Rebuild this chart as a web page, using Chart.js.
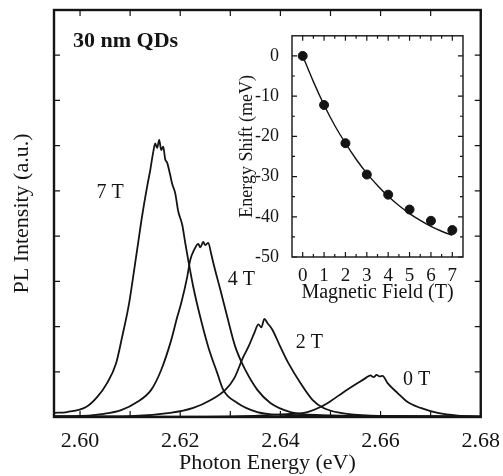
<!DOCTYPE html>
<html>
<head>
<meta charset="utf-8">
<script src="https://cdn.jsdelivr.net/npm/chart.js@4/dist/chart.umd.min.js"></script>
<style>
  body { margin: 0; background: #fff; }
  #wrap { position: relative; width: 503px; height: 476px; }
  #main { position: absolute; left: 0; top: 0; }
  #inset { position: absolute; left: 236px; top: 20px; }
</style>
</head>
<body>
<div id="wrap">
  <canvas id="main" width="503" height="476"></canvas>
  <canvas id="inset" width="240" height="290"></canvas>
</div>
<script>
// spectre PL (eV, intensitate u.a.)
var e7 = [2.5948, 2.5974, 2.6012, 2.6034, 2.6054, 2.6072, 2.6084, 2.6098, 2.6108, 2.6116, 2.6124, 2.6134, 2.6140, 2.6146, 2.6150, 2.6154, 2.6158, 2.6162, 2.6166, 2.6170, 2.6174, 2.6180, 2.6184, 2.6190, 2.6196, 2.6204, 2.6210, 2.6216, 2.6226, 2.6240, 2.6256, 2.6274, 2.6286, 2.6314, 2.6354, 2.6400, 2.6500, 2.6600, 2.6800];
var i7 = [0.09, 0.11, 0.22, 0.44, 0.75, 1.19, 1.77, 2.52, 3.25, 3.85, 4.45, 5.10, 5.45, 5.85, 6.05, 5.95, 6.13, 5.90, 5.98, 5.70, 5.62, 5.35, 5.15, 4.95, 4.55, 4.25, 3.85, 3.47, 2.88, 2.21, 1.55, 0.97, 0.60, 0.31, 0.11, 0.05, 0.03, 0.02, 0.01];

var e4 = [2.5948, 2.5988, 2.6048, 2.6082, 2.6114, 2.6142, 2.6162, 2.6182, 2.6194, 2.6202, 2.6214, 2.6220, 2.6228, 2.6236, 2.6240, 2.6246, 2.6250, 2.6256, 2.6262, 2.6266, 2.6272, 2.6280, 2.6294, 2.6310, 2.6330, 2.6354, 2.6380, 2.6420, 2.6480, 2.6600, 2.6800];
var i4 = [0.02, 0.02, 0.07, 0.15, 0.33, 0.60, 1.04, 1.70, 2.21, 2.52, 3.10, 3.47, 3.70, 3.83, 3.75, 3.87, 3.80, 3.85, 3.60, 3.41, 3.15, 2.82, 2.21, 1.55, 1.04, 0.60, 0.31, 0.11, 0.04, 0.02, 0.01];

var e2 = [2.5948, 2.6100, 2.6180, 2.6226, 2.6260, 2.6290, 2.6308, 2.6326, 2.6336, 2.6348, 2.6356, 2.6362, 2.6368, 2.6374, 2.6384, 2.6400, 2.6416, 2.6440, 2.6464, 2.6486, 2.6520, 2.6580, 2.6800];
var i2 = [0.01, 0.02, 0.09, 0.20, 0.37, 0.60, 0.86, 1.33, 1.55, 1.86, 2.05, 1.98, 2.17, 2.08, 1.93, 1.55, 1.19, 0.75, 0.38, 0.20, 0.09, 0.03, 0.01];

var e0 = [2.5948, 2.6200, 2.6320, 2.6420, 2.6454, 2.6480, 2.6500, 2.6526, 2.6554, 2.6570, 2.6580, 2.6586, 2.6592, 2.6598, 2.6604, 2.6614, 2.6634, 2.6654, 2.6680, 2.6714, 2.6754, 2.6800];
var i0 = [0.01, 0.01, 0.02, 0.07, 0.11, 0.22, 0.35, 0.55, 0.75, 0.86, 0.92, 0.88, 0.93, 0.90, 0.91, 0.75, 0.53, 0.33, 0.20, 0.09, 0.03, 0.01];

// tick-uri axa principala
var xTicks = [2.60, 2.61, 2.62, 2.63, 2.64, 2.65, 2.66, 2.67, 2.68];
var yTicks = [0, 1, 2, 3, 4, 5, 6, 7, 8, 9];

// etichete pe curbe
var fieldLabels = ["7 T", "4 T", "2 T", "0 T"];

// inset: deplasarea energiei vs camp magnetic
var fieldB = [0, 1, 2, 3, 4, 5, 6, 7];
var shift = [0, -12.2, -21.7, -29.5, -34.5, -38.2, -41.0, -43.3];
var fitB = [0, 0.5, 1, 1.5, 2, 2.5, 3, 3.5, 4, 4.5, 5, 5.5, 6, 6.5, 7];
var fitShift = [0, -6.4, -12.2, -17.3, -21.7, -25.7, -29.2, -32.2, -34.9, -37.2, -39.2, -40.9, -42.4, -43.6, -44.6];
var insetYTicks = [-50, -40, -30, -20, -10, 0];
var insetXTicks = [0, 1, 2, 3, 4, 5, 6, 7];


var serif = "'Liberation Serif', 'DejaVu Serif', serif";
var ink = "#141414";

function pts(xs, ys) {
  var out = [];
  for (var i = 0; i < xs.length; i++) out.push({ x: xs[i], y: ys[i] });
  return out;
}

function curve(xs, ys) {
  return {
    data: pts(xs, ys),
    borderColor: ink,
    borderWidth: 1.8,
    pointRadius: 0,
    fill: false,
    cubicInterpolationMode: "monotone"
  };
}

// rama + tick-uri spre interior
function frameTicks(chart, xs, ys, xMinor, yMinor, len, minorLen, lw) {
  var ctx = chart.ctx;
  var a = chart.chartArea;
  var sx = chart.scales.x, sy = chart.scales.y;
  ctx.save();
  ctx.strokeStyle = ink;
  ctx.lineWidth = lw;
  ctx.strokeRect(a.left, a.top, a.right - a.left, a.bottom - a.top);
  ctx.lineWidth = 1.2;
  ctx.beginPath();
  function xt(v, l) {
    var p = sx.getPixelForValue(v);
    ctx.moveTo(p, a.bottom); ctx.lineTo(p, a.bottom - l);
    ctx.moveTo(p, a.top); ctx.lineTo(p, a.top + l);
  }
  function yt(v, l) {
    var p = sy.getPixelForValue(v);
    ctx.moveTo(a.left, p); ctx.lineTo(a.left + l, p);
    ctx.moveTo(a.right, p); ctx.lineTo(a.right - l, p);
  }
  xs.forEach(function (v) { xt(v, len); });
  ys.forEach(function (v) { yt(v, len); });
  (xMinor || []).forEach(function (v) { xt(v, minorLen); });
  (yMinor || []).forEach(function (v) { yt(v, minorLen); });
  ctx.stroke();
  ctx.restore();
}

var mainPlugin = {
  id: "mainFrame",
  afterDraw: function (chart) {
    frameTicks(chart, xTicks, yTicks, null, null, 6, 0, 2.4);
    var ctx = chart.ctx;
    var sx = chart.scales.x, sy = chart.scales.y;
    ctx.save();
    ctx.fillStyle = ink;
    ctx.textBaseline = "middle";
    ctx.textAlign = "left";
    ctx.font = "bold 22px " + serif;
    ctx.fillText("30 nm QDs", sx.getPixelForValue(2.5986), sy.getPixelForValue(8.3));
    ctx.font = "20px " + serif;
    ctx.textAlign = "center";
    ctx.fillText(fieldLabels[0], sx.getPixelForValue(2.6060), sy.getPixelForValue(4.95));
    ctx.fillText(fieldLabels[1], sx.getPixelForValue(2.6322), sy.getPixelForValue(3.03));
    ctx.fillText(fieldLabels[2], sx.getPixelForValue(2.6458), sy.getPixelForValue(1.64));
    ctx.fillText(fieldLabels[3], sx.getPixelForValue(2.6672), sy.getPixelForValue(0.82));
    ctx.restore();
  }
};

new Chart(document.getElementById("main"), {
  type: "line",
  data: {
    datasets: [curve(e7, i7), curve(e4, i4), curve(e2, i2), curve(e0, i0)]
  },
  options: {
    responsive: false,
    animation: false,
    layout: { padding: { top: 10, right: 22, left: 0, bottom: 0 } },
    plugins: { legend: { display: false }, tooltip: { enabled: false } },
    scales: {
      x: {
        type: "linear",
        min: 2.5948,
        max: 2.68,
        grid: { display: false },
        border: { display: false },
        afterBuildTicks: function (s) { s.ticks = xTicks.map(function (v) { return { value: v }; }); },
        afterFit: function (s) { s.height = 59; },
        ticks: {
          autoSkip: false,
          maxRotation: 0,
          padding: 3,
          color: ink,
          font: { family: serif, size: 22 },
          callback: function (v) {
            var k = Math.round(v * 100);
            return k % 2 === 0 ? (k / 100).toFixed(2) : "";
          }
        },
        title: {
          display: true,
          text: "Photon Energy (eV)",
          color: ink,
          font: { family: serif, size: 22 },
          padding: { top: 0, bottom: 0 }
        }
      },
      y: {
        min: 0,
        max: 9,
        grid: { display: false },
        border: { display: false },
        ticks: { display: false },
        afterFit: function (s) { s.width = 54; },
        title: {
          display: true,
          text: "PL Intensity (a.u.)",
          color: ink,
          font: { family: serif, size: 22 },
          padding: { top: 9, bottom: 0 }
        }
      }
    }
  },
  plugins: [mainPlugin]
});


// inset
var insetPlugin = {
  id: "insetFrame",
  beforeDatasetsDraw: function (chart) {
    var a = chart.chartArea;
    chart.ctx.save();
    chart.ctx.fillStyle = "#fff";
    chart.ctx.fillRect(a.left, a.top, a.right - a.left, a.bottom - a.top);
    chart.ctx.restore();
  },
  afterDraw: function (chart) {
    frameTicks(chart, insetXTicks, insetYTicks,
      [0.5, 1.5, 2.5, 3.5, 4.5, 5.5, 6.5],
      [-45, -35, -25, -15, -5], 5, 3, 1.4);
  }
};

new Chart(document.getElementById("inset"), {
  type: "line",
  data: {
    datasets: [
      {
        data: pts(fitB, fitShift),
        borderColor: ink,
        borderWidth: 1.4,
        pointRadius: 0,
        cubicInterpolationMode: "monotone"
      },
      {
        data: pts(fieldB, shift),
        showLine: false,
        pointRadius: 4.5,
        pointBackgroundColor: ink,
        pointBorderColor: ink
      }
    ]
  },
  options: {
    responsive: false,
    animation: false,
    layout: { padding: { top: 10, right: 13, left: 0, bottom: 0 } },
    plugins: { legend: { display: false }, tooltip: { enabled: false } },
    scales: {
      x: {
        type: "linear",
        min: -0.5,
        max: 7.5,
        grid: { display: false },
        border: { display: false },
        afterBuildTicks: function (s) { s.ticks = insetXTicks.map(function (v) { return { value: v }; }); },
        afterFit: function (s) { s.height = 53; },
        ticks: { padding: 0, maxRotation: 0, color: ink, font: { family: serif, size: 19 } },
        title: {
          display: true,
          text: "Magnetic Field (T)",
          color: ink,
          font: { family: serif, size: 20 },
          padding: { top: 0, bottom: 5 }
        }
      },
      y: {
        min: -50,
        max: 5,
        grid: { display: false },
        border: { display: false },
        afterBuildTicks: function (s) { s.ticks = insetYTicks.map(function (v) { return { value: v }; }); },
        afterFit: function (s) { s.width = 56; },
        ticks: {
          padding: 5,
          color: ink,
          font: { family: serif, size: 18 },
          callback: function (v) { return String(v); }
        },
        title: {
          display: true,
          text: "Energy Shift (meV)",
          color: ink,
          font: { family: serif, size: 18 },
          padding: { top: 0, bottom: 0 }
        }
      }
    }
  },
  plugins: [insetPlugin]
});
</script>
</body>
</html>
